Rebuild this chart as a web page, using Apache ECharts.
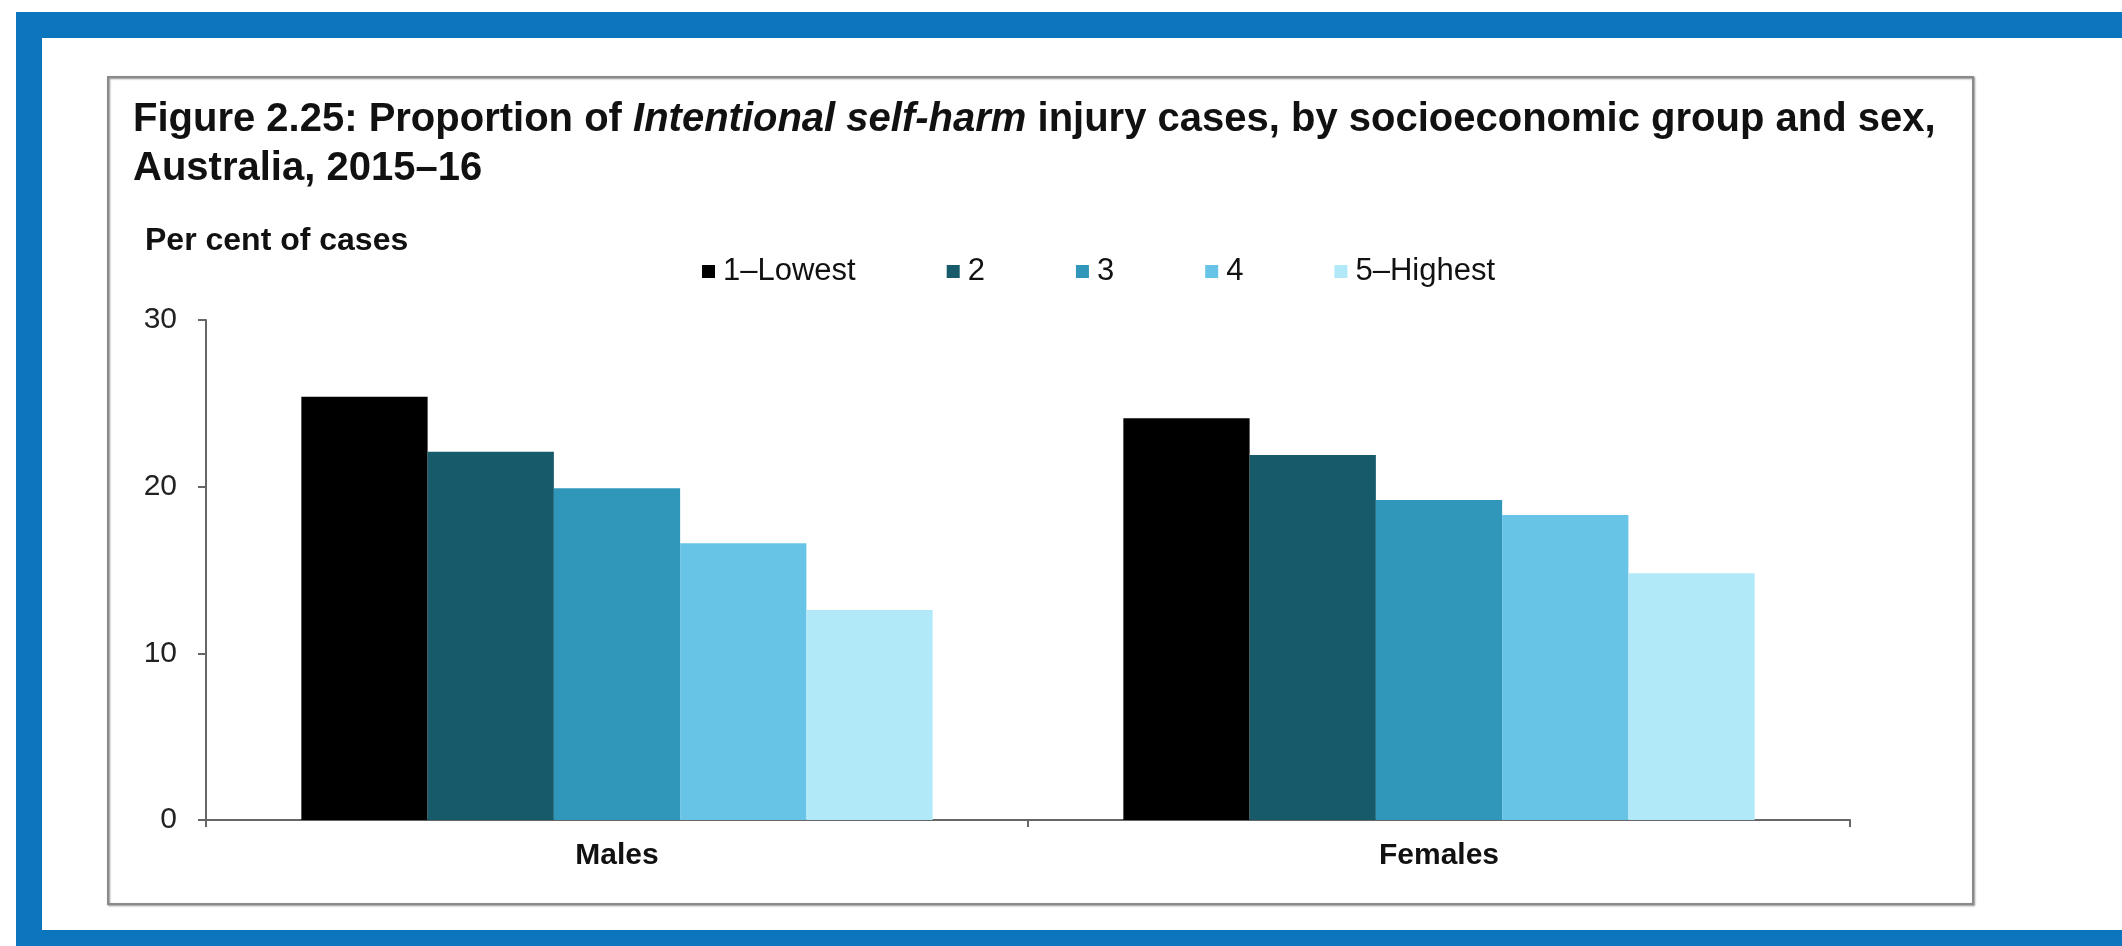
<!DOCTYPE html>
<html>
<head>
<meta charset="utf-8">
<script src="https://cdn.jsdelivr.net/npm/echarts@6/dist/echarts.min.js"></script>
<style>
html,body{margin:0;padding:0;background:#fff;}
#chart{width:2122px;height:946px;}
</style>
</head>
<body>
<div id="chart"></div>
<script>
const categories = ['Males', 'Females'];
const seriesNames = ['1\u2013Lowest', '2', '3', '4', '5\u2013Highest'];
const lowest = [25.4, 24.1];
const group2 = [22.1, 21.9];
const group3 = [19.9, 19.2];
const group4 = [16.6, 18.3];
const highest = [12.6, 14.8];
const yTicks = [0, 10, 20, 30];

const colors = ['#000000', '#175a6a', '#3197ba', '#68c4e6', '#b1e9f9'];
const values = [lowest, group2, group3, group4, highest];
const FONT = '"Liberation Sans", Arial, sans-serif';

const chart = echarts.init(document.getElementById('chart'), null, {renderer: 'canvas'});
chart.setOption({
  backgroundColor: '#ffffff',
  animation: false,
  graphic: [
    {type: 'rect', shape: {x: 16, y: 12, width: 2106, height: 26}, style: {fill: '#0b76bd'}, silent: true},
    {type: 'rect', shape: {x: 16, y: 12, width: 26, height: 934}, style: {fill: '#0b76bd'}, silent: true},
    {type: 'rect', shape: {x: 16, y: 930, width: 2106, height: 16}, style: {fill: '#0b76bd'}, silent: true},
    {type: 'rect', shape: {x: 108, y: 77, width: 1865, height: 827},
     style: {fill: 'none', stroke: '#8a8a8a', lineWidth: 2, shadowColor: 'rgba(0,0,0,0.45)', shadowBlur: 2, shadowOffsetX: 1, shadowOffsetY: 1}, silent: true, z: -1}
  ],
  title: [
    {
      text: 'Figure 2.25: Proportion of {i|Intentional self-harm} injury cases, by socioeconomic group and sex,\nAustralia, 2015\u201316',
      left: 133, top: 95, padding: 0,
      textStyle: {
        fontFamily: FONT, fontSize: 40, fontWeight: 'bold', color: '#111', lineHeight: 49,
        rich: {i: {fontFamily: FONT, fontSize: 40, fontWeight: 'bold', fontStyle: 'italic', color: '#111', lineHeight: 49}}
      }
    },
    {
      text: 'Per cent of cases',
      left: 145, top: 225, padding: 0,
      textStyle: {fontFamily: FONT, fontSize: 32, fontWeight: 'bold', color: '#111', lineHeight: 32}
    }
  ],
  legend: {
    data: seriesNames,
    left: 702, top: 256, padding: 0,
    icon: 'rect', itemWidth: 13, itemHeight: 13, itemGap: 91,
    textStyle: {fontFamily: FONT, fontSize: 31, color: '#111', padding: [0, 0, 0, 3]},
    selectedMode: false
  },
  grid: {left: 206, right: 272, top: 320, bottom: 126, containLabel: false},
  xAxis: {
    type: 'category', data: categories,
    axisLine: {lineStyle: {color: '#666', width: 2}},
    axisTick: {show: true, alignWithLabel: false, length: 7, lineStyle: {color: '#666', width: 2}},
    axisLabel: {fontFamily: FONT, fontSize: 30, fontWeight: 'bold', color: '#111', margin: 21, lineHeight: 30}
  },
  yAxis: {
    type: 'value', min: 0, max: 30, interval: 10,
    axisLine: {show: true, lineStyle: {color: '#666', width: 2}},
    axisTick: {show: true, length: 8, lineStyle: {color: '#666', width: 2}},
    splitLine: {show: false},
    axisLabel: {fontFamily: FONT, fontSize: 30, color: '#222', margin: 29,
      formatter: v => (yTicks.indexOf(v) >= 0 ? String(v) : '')}
  },
  series: seriesNames.map((name, i) => ({
    name: name, type: 'bar', data: values[i],
    barGap: '0%', barCategoryGap: '23.2%',
    itemStyle: {color: colors[i]}
  }))
});
</script>
</body>
</html>
